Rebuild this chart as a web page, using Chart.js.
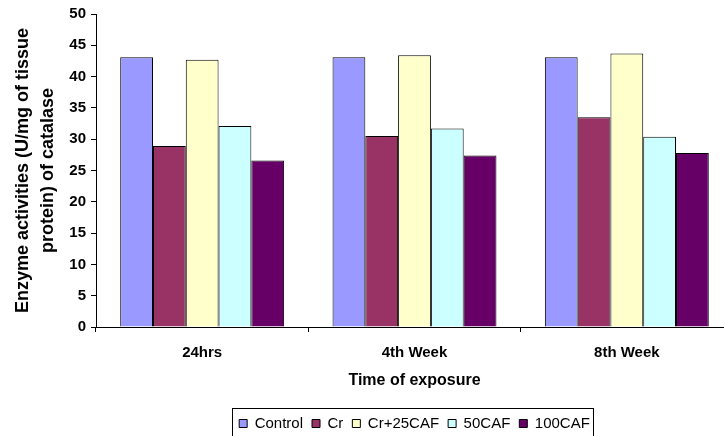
<!DOCTYPE html>
<html>
<head>
<meta charset="utf-8">
<script src="https://cdn.jsdelivr.net/npm/chart.js@4"></script>
<style>
  html, body { margin: 0; padding: 0; background: #fff; overflow: hidden; }
  #wrap { position: relative; width: 745px; height: 436px; }
</style>
</head>
<body>
<div id="wrap"><canvas id="c"></canvas></div>
<script>
const categories = ['24hrs', '4th Week', '8th Week'];
const seriesNames = ['Control', 'Cr', 'Cr+25CAF', '50CAF', '100CAF'];
const control  = [43.1, 43.1, 43.1];
const cr       = [28.9, 30.5, 33.5];
const cr25caf  = [42.7, 43.4, 43.7];
const caf50    = [32.1, 31.7, 30.4];
const caf100   = [26.6, 27.4, 27.8];
const yTicks = [0, 5, 10, 15, 20, 25, 30, 35, 40, 45, 50];
const colors = ['#9999FF', '#993366', '#FFFFCC', '#CCFFFF', '#660066'];
const seriesValues = [control, cr, cr25caf, caf50, caf100];

const FONT = "'Liberation Sans', Arial, sans-serif";
const LEGEND_SHIFT = 5;

const legendBorder = {
  id: 'legendBorder',
  afterLayout(chart) {
    const lg = chart.legend;
    if (!lg) return;
    lg.top += LEGEND_SHIFT;
    lg.bottom += LEGEND_SHIFT;
  },
  afterDraw(chart) {
    const lg = chart.legend;
    if (!lg || !lg.legendHitBoxes || !lg.legendHitBoxes.length) return;
    const hb = lg.legendHitBoxes;
    let l = Infinity, r = -Infinity;
    hb.forEach(b => { l = Math.min(l, b.left); r = Math.max(r, b.left + b.width); });
    const ctx = chart.ctx;
    ctx.save();
    ctx.strokeStyle = '#000';
    ctx.lineWidth = 1;
    ctx.strokeRect(Math.round(l - 7) + 0.5, Math.round(lg.top + 1) + 0.5, Math.round(r - l + 10), 40);
    ctx.restore();
  }
};

new Chart(document.getElementById('c'), {
  type: 'bar',
  data: {
    labels: categories,
    datasets: seriesNames.map((name, i) => ({
      label: name,
      data: seriesValues[i],
      backgroundColor: colors[i],
      borderColor: '#000',
      borderWidth: 1,
      borderSkipped: 'bottom',
      categoryPercentage: 0.772,
      barPercentage: 1.0
    }))
  },
  options: {
    responsive: true,
    maintainAspectRatio: false,
    animation: false,
    devicePixelRatio: 1,
    layout: { padding: { left: 0, right: 12, top: 13, bottom: 0 } },
    plugins: {
      tooltip: { enabled: false },
      legend: {
        position: 'bottom',
        fullSize: false,
        labels: {
          boxWidth: 8,
          boxHeight: 8,
          padding: 9,
          color: '#000',
          font: { family: FONT, size: 15 },
          generateLabels(chart) {
            return chart.data.datasets.map((ds, i) => ({
              text: ds.label,
              fillStyle: ds.backgroundColor,
              strokeStyle: '#000',
              lineWidth: 1,
              hidden: false,
              datasetIndex: i,
              fontColor: '#000'
            }));
          }
        }
      }
    },
    scales: {
      x: {
        afterFit(scale) { scale.height = 75; },
        grid: { display: true, drawOnChartArea: false, tickLength: 5, color: '#000', offset: true },
        border: { display: true, color: '#000', width: 1 },
        ticks: { color: '#000', padding: 12, font: { family: FONT, size: 15, weight: 'bold' } },
        title: {
          display: true, text: 'Time of exposure', color: '#000',
          font: { family: FONT, size: 16, weight: 'bold' },
          padding: { top: 0, bottom: 12 }
        }
      },
      y: {
        min: 0, max: 50,
        afterFit(scale) { scale.width = 96; },
        afterBuildTicks(scale) { scale.ticks = yTicks.map(v => ({ value: v })); },
        grid: { display: true, drawOnChartArea: false, tickLength: 5, color: '#000' },
        border: { display: true, color: '#000', width: 1 },
        ticks: { color: '#000', padding: 5, font: { family: FONT, size: 15, weight: 'bold' } },
        title: {
          display: true, text: ['Enzyme activities (U/mg of tissue', 'protein) of catalase'], color: '#000',
          font: { family: FONT, size: 18, weight: 'bold', lineHeight: 1.39 },
          padding: { top: 11, bottom: 0 }
        }
      }
    }
  },
  plugins: [legendBorder]
});
</script>
</body>
</html>
